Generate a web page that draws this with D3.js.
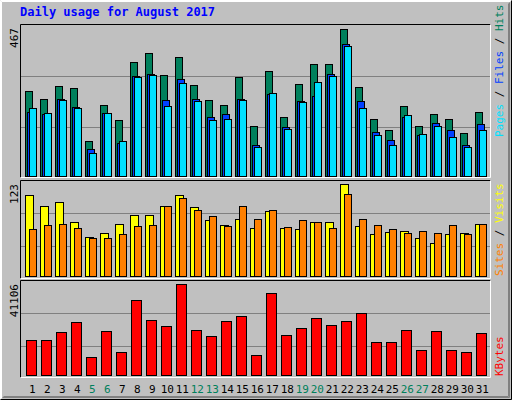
<!DOCTYPE html>
<html><head><meta charset="utf-8">
<script src="https://cdn.jsdelivr.net/npm/d3@7"></script>
<style>body{margin:0;background:#fff}svg{display:block}text{font-family:"DejaVu Sans Mono",monospace}</style>
</head><body><svg id="c" width="512" height="400"></svg>
<script>
const days = d3.range(1,32);
const weekend = [5,6,12,13,19,20,26,27];
const hits  = [271,244,286,279,110,225,177,362,390,320,378,289,241,225,314,158,333,187,292,355,355,467,282,180,145,222,158,196,180,136,203];
const files = [204,197,244,219,85,199,104,317,324,241,308,244,187,196,244,98,260,155,238,254,324,419,238,139,114,187,129,168,145,98,164];
const pages = [215,199,241,215,72,199,110,314,320,222,295,238,177,180,241,91,263,149,234,298,317,413,215,129,98,193,133,158,123,91,145];
const visits= [108,94,99,72,52,57,70,82,82,94,108,92,75,68,76,64,87,64,63,72,72,123,67,56,59,60,51,44,56,57,70];
const sites = [63,68,70,64,51,51,56,67,68,94,104,88,80,67,94,76,88,66,75,72,64,110,76,68,63,57,60,57,68,56,70];
const kbytes= [15813,15813,19427,23945,8132,19879,10391,33885,24849,22138,41106,20331,17620,24397,26656,9036,37048,18072,21235,25753,22590,24397,28012,14909,14909,20331,11295,19879,11295,10391,18976];
const maxLabels = ["467","123","41106"];

const svg = d3.select("#c");
svg.append("rect").attr("width",512).attr("height",400).attr("fill","#C0C0C0");
// outer bevel
svg.append("path").attr("d","M0.5,399.5V0.5H511.5").attr("stroke","#fff").attr("fill","none");
svg.append("path").attr("d","M1.5,398.5V1.5H510.5").attr("stroke","#fff").attr("fill","none");
svg.append("path").attr("d","M0.5,399.5H511.5V0.5").attr("stroke","#000").attr("fill","none");
svg.append("path").attr("d","M2.5,397.5H509.5V2.5").attr("stroke","#808080").attr("fill","none");
svg.append("path").attr("d","M3.5,396.5H508.5V3.5").attr("stroke","#808080").attr("fill","none");

svg.append("text").attr("x",20).attr("y",16).attr("fill","#0000FF").attr("font-weight","bold")
  .attr("font-size",12).text("Daily usage for August 2017");

const x = d3.scaleLinear().domain([1,31]).range([25.3,475.3]);

function panel(top,bottom){
  svg.append("path").attr("d",`M20.5,${bottom+0.5}V${top+0.5}H490.5`).attr("stroke","#000").attr("fill","none");
  svg.append("path").attr("d",`M20.5,${bottom+0.5}H490.5V${top+0.5}`).attr("stroke","#fff").attr("fill","none");
}
function grid(ys){ys.forEach(y=>svg.append("line").attr("x1",21).attr("x2",490).attr("y1",y+0.5).attr("y2",y+0.5).attr("stroke","#808080"));}
function bars(data,scale,off,w,color){
  svg.append("g").selectAll("rect").data(data).join("rect")
    .attr("x",(d,i)=>Math.round(x(i+1))+off+0.5).attr("width",w)
    .attr("y",d=>Math.round(scale(d))+0.5).attr("height",d=>Math.max(0,Math.round(scale(0))-Math.round(scale(d))))
    .attr("fill",color).attr("stroke","#000");
}
function vlabel(xp,ybot,parts){
  const t=svg.append("text").attr("transform",`translate(${xp},${ybot}) rotate(-90)`).attr("font-size",11);
  parts.forEach(p=>t.append("tspan").attr("fill",p[1]).text(p[0]));
}
function maxlab(txt,ytop){
  svg.append("text").attr("transform",`translate(18,${ytop}) rotate(-90)`).attr("text-anchor","end").attr("font-size",11).attr("fill","#000").text(txt);
}

// top panel
panel(24,177);
grid([76,127]);
const y1=d3.scaleLinear().domain([0,467]).range([176,29]);
bars(hits,y1,0,7,"#00805C");
bars(files,y1,2,7,"#0040FF");
bars(pages,y1,4,7,"#00E0FF");
maxlab(maxLabels[0],28);
vlabel(503,137,[["Pages","#00E0FF"],[" / ","#000"],["Files","#0040FF"],[" / ","#000"],["Hits","#00805C"]]);

// middle panel
panel(180,278);
grid([213,246]);
const y2=d3.scaleLinear().domain([0,123]).range([276,184]);
bars(visits,y2,0,8,"#FFFF00");
bars(sites,y2,4,7,"#FF8000");
maxlab(maxLabels[1],184);
vlabel(503,276,[["Sites","#FF8000"],[" / ","#000"],["Visits","#FFFF00"]]);

// bottom panel
panel(280,377);
grid([313,346]);
const y3=d3.scaleLinear().domain([0,41106]).range([375,284]);
bars(kbytes,y3,1,10,"#FF0000");
maxlab(maxLabels[2],284);
vlabel(503,376,[["KBytes","#FF0000"]]);

svg.append("g").selectAll("text").data(days).join("text")
  .attr("x",d=>x(d)+7).attr("y",393).attr("text-anchor","middle").attr("font-size",11)
  .attr("fill",d=>weekend.includes(d)?"#00805C":"#000").text(d=>d);
</script></body></html>
